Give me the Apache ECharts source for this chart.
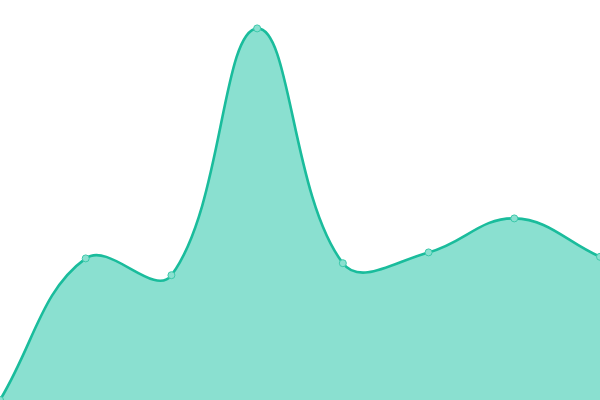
<!DOCTYPE html>
<html>
<head>
<meta charset="utf-8">
<title></title>
<script src="https://cdn.jsdelivr.net/npm/echarts@6/dist/echarts.min.js"></script>
<style type="text/css">
	html, body { margin: 0; padding: 0; background: #ffffff; }
	div#main { width: 600px; height: 400px; }
</style>
</head>
<body>
<div id="main"></div>
<script type="text/javascript">
var categories = ['1', '2', '3', '4', '5', '6', '7', '8'];
var values = [0, 35.4, 31.2, 92.9, 34.2, 36.9, 45.4, 35.8];

var tension = 0.4; // 曲线张力

// 用相邻点算贝塞尔控制点
function controlPoints(pts) {
	var cps = [];
	for (var i = 0; i < pts.length; i++) {
		var prev = pts[i - 1] || pts[i];
		var cur = pts[i];
		var next = pts[i + 1] || pts[i];
		var d01 = Math.sqrt(Math.pow(cur[0] - prev[0], 2) + Math.pow(cur[1] - prev[1], 2));
		var d12 = Math.sqrt(Math.pow(next[0] - cur[0], 2) + Math.pow(next[1] - cur[1], 2));
		var s = d01 + d12 || 1;
		var fa = tension * d01 / s;
		var fb = tension * d12 / s;
		cps.push({
			prev: [cur[0] - fa * (next[0] - prev[0]), cur[1] - fa * (next[1] - prev[1])],
			next: [cur[0] + fb * (next[0] - prev[0]), cur[1] + fb * (next[1] - prev[1])]
		});
	}
	return cps;
}

function renderCurve(params, api) {
	var pts = values.map(function (v, i) { return api.coord([i, v]); });
	var cps = controlPoints(pts);
	var bottom = api.coord([0, 0])[1];
	var d = 'M' + pts[0][0] + ' ' + pts[0][1];
	for (var i = 1; i < pts.length; i++) {
		var a = cps[i - 1].next, b = cps[i].prev;
		b[1] = Math.min(b[1], bottom);
		a[1] = Math.min(a[1], bottom);
		d += ' C' + a[0] + ' ' + a[1] + ' ' + b[0] + ' ' + b[1] + ' ' + pts[i][0] + ' ' + pts[i][1];
	}
	var area = d + ' L' + pts[pts.length - 1][0] + ' ' + bottom + ' L' + pts[0][0] + ' ' + bottom + ' Z';
	return {
		type: 'group',
		children: [{
			type: 'path',
			shape: { pathData: area },
			style: { fill: '#8ae0d0', stroke: null }
		}, {
			type: 'path',
			shape: { pathData: d },
			style: { fill: null, stroke: '#1abc9c', lineWidth: 2.6 }
		}]
	};
}

var myChart = echarts.init(document.getElementById('main'));
var option = {
	animation: false,
	grid: { left: 0, right: 0, top: 0, bottom: 0 },
	xAxis: {
		type: 'category',
		boundaryGap: false,
		show: false,
		data: categories
	},
	yAxis: {
		type: 'value',
		min: 0,
		max: 100,
		show: false
	},
	series: [{
		type: 'custom',
		renderItem: renderCurve,
		data: [[0, values[0]]],
		z: 1
	}, {
		type: 'scatter',
		data: values,
		symbol: 'circle',
		symbolSize: 7,
		itemStyle: { color: '#8ae0d0', borderColor: '#3cc8aa', borderWidth: 1, opacity: 1 },
		z: 2
	}]
};
myChart.setOption(option);
</script>
</body>
</html>
